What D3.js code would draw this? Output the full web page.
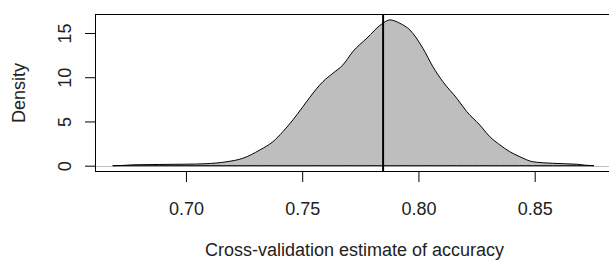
<!DOCTYPE html>
<html>
<head>
<meta charset="utf-8">
<script src="https://cdn.jsdelivr.net/npm/d3@7"></script>
<style>
  html, body { margin: 0; padding: 0; background: #fff; }
  svg { display: block; }
  text { font-family: "Liberation Sans", Arial, Helvetica, sans-serif; fill: #222; }
</style>
</head>
<body>
<svg id="chart" width="609" height="262"></svg>
<script>
// ---- data ----
const accuracy = [0.6685, 0.6720, 0.6776, 0.6888, 0.7000, 0.7082, 0.7176, 0.7245, 0.7318, 0.7374,
                  0.7417, 0.7460, 0.7503, 0.7533, 0.7589, 0.7632, 0.7675, 0.7718, 0.7778, 0.7843,
                  0.7877, 0.7920, 0.7963, 0.8019, 0.8062, 0.8105, 0.8165, 0.8208, 0.8264, 0.8307,
                  0.8350, 0.8393, 0.8436, 0.8492, 0.8578, 0.8681, 0.8720, 0.8755];
const density  = [0.00, 0.02, 0.10, 0.14, 0.17, 0.22, 0.45, 0.84, 1.78, 2.71,
                  3.85, 5.17, 6.67, 7.74, 9.50, 10.45, 11.39, 12.90, 14.41, 16.03,
                  16.48, 16.10, 15.35, 13.28, 11.20, 9.50, 7.62, 6.11, 4.60, 3.28,
                  2.36, 1.58, 1.02, 0.45, 0.27, 0.16, 0.05, 0.00];
const observedAccuracy = 0.7848;
const xTicks = [0.70, 0.75, 0.80, 0.85];
const yTicks = [0, 5, 10, 15];
const xLabel = "Cross-validation estimate of accuracy";
const yLabel = "Density";

// ---- layout ----
const svg = d3.select("#chart");
const pL = 95.5, pR = 613.5, pT = 14.5, pB = 171.5;

const x = d3.scaleLinear().domain([0.6611, 0.8839]).range([pL, pR]);
const y = d3.scaleLinear().domain([-0.656, 17.09]).range([pB, pT]);

const pts = accuracy.map((a, i) => [a, density[i]]);

// zero line (gray)
svg.append("line")
  .attr("x1", pL).attr("x2", pR)
  .attr("y1", Math.round(y(0)) + 0.5).attr("y2", Math.round(y(0)) + 0.5)
  .attr("stroke", "#bebebe").attr("stroke-width", 1);

// density polygon
const area = d3.area()
  .x(d => x(d[0]))
  .y0(y(0))
  .y1(d => y(d[1]))
  .curve(d3.curveMonotoneX);

svg.append("path")
  .datum(pts)
  .attr("d", area)
  .attr("fill", "#bebebe")
  .attr("stroke", "#000")
  .attr("stroke-width", 1)
  .attr("stroke-linejoin", "round");

// observed accuracy line
svg.append("line")
  .attr("x1", x(observedAccuracy)).attr("x2", x(observedAccuracy))
  .attr("y1", pT).attr("y2", pB)
  .attr("stroke", "#000").attr("stroke-width", 2);

// box
svg.append("rect")
  .attr("x", pL).attr("y", pT)
  .attr("width", pR - pL).attr("height", pB - pT)
  .attr("fill", "none").attr("stroke", "#000").attr("stroke-width", 1);

// x axis
const xAxis = d3.axisBottom(x)
  .tickValues(xTicks)
  .tickFormat(d3.format(".2f"))
  .tickSize(10.5)
  .tickPadding(20);
const gx = svg.append("g").attr("transform", `translate(0,${pB})`).call(xAxis);
gx.select(".domain").remove();
gx.selectAll(".tick line").attr("stroke", "#000");
gx.selectAll(".tick text")
  .attr("font-size", 18).attr("fill", "#222")
  .attr("font-family", "Liberation Sans, Arial, sans-serif");

// y axis
const yAxis = d3.axisLeft(y)
  .tickValues(yTicks)
  .tickSize(10.5)
  .tickPadding(0);
const gy = svg.append("g").attr("transform", `translate(${pL},0)`).call(yAxis);
gy.select(".domain").remove();
gy.selectAll(".tick line").attr("stroke", "#000");
gy.selectAll(".tick text")
  .attr("font-size", 18).attr("fill", "#222")
  .attr("font-family", "Liberation Sans, Arial, sans-serif")
  .attr("x", null).attr("dy", null)
  .attr("text-anchor", "middle")
  .attr("transform", "translate(-25,0) rotate(-90)");

// axis titles
svg.append("text")
  .attr("x", (pL + pR) / 2).attr("y", 256)
  .attr("text-anchor", "middle").attr("font-size", 18)
  .text(xLabel);

svg.append("text")
  .attr("transform", `translate(25,${(pT + pB) / 2}) rotate(-90)`)
  .attr("text-anchor", "middle").attr("font-size", 18)
  .text(yLabel);
</script>
</body>
</html>
